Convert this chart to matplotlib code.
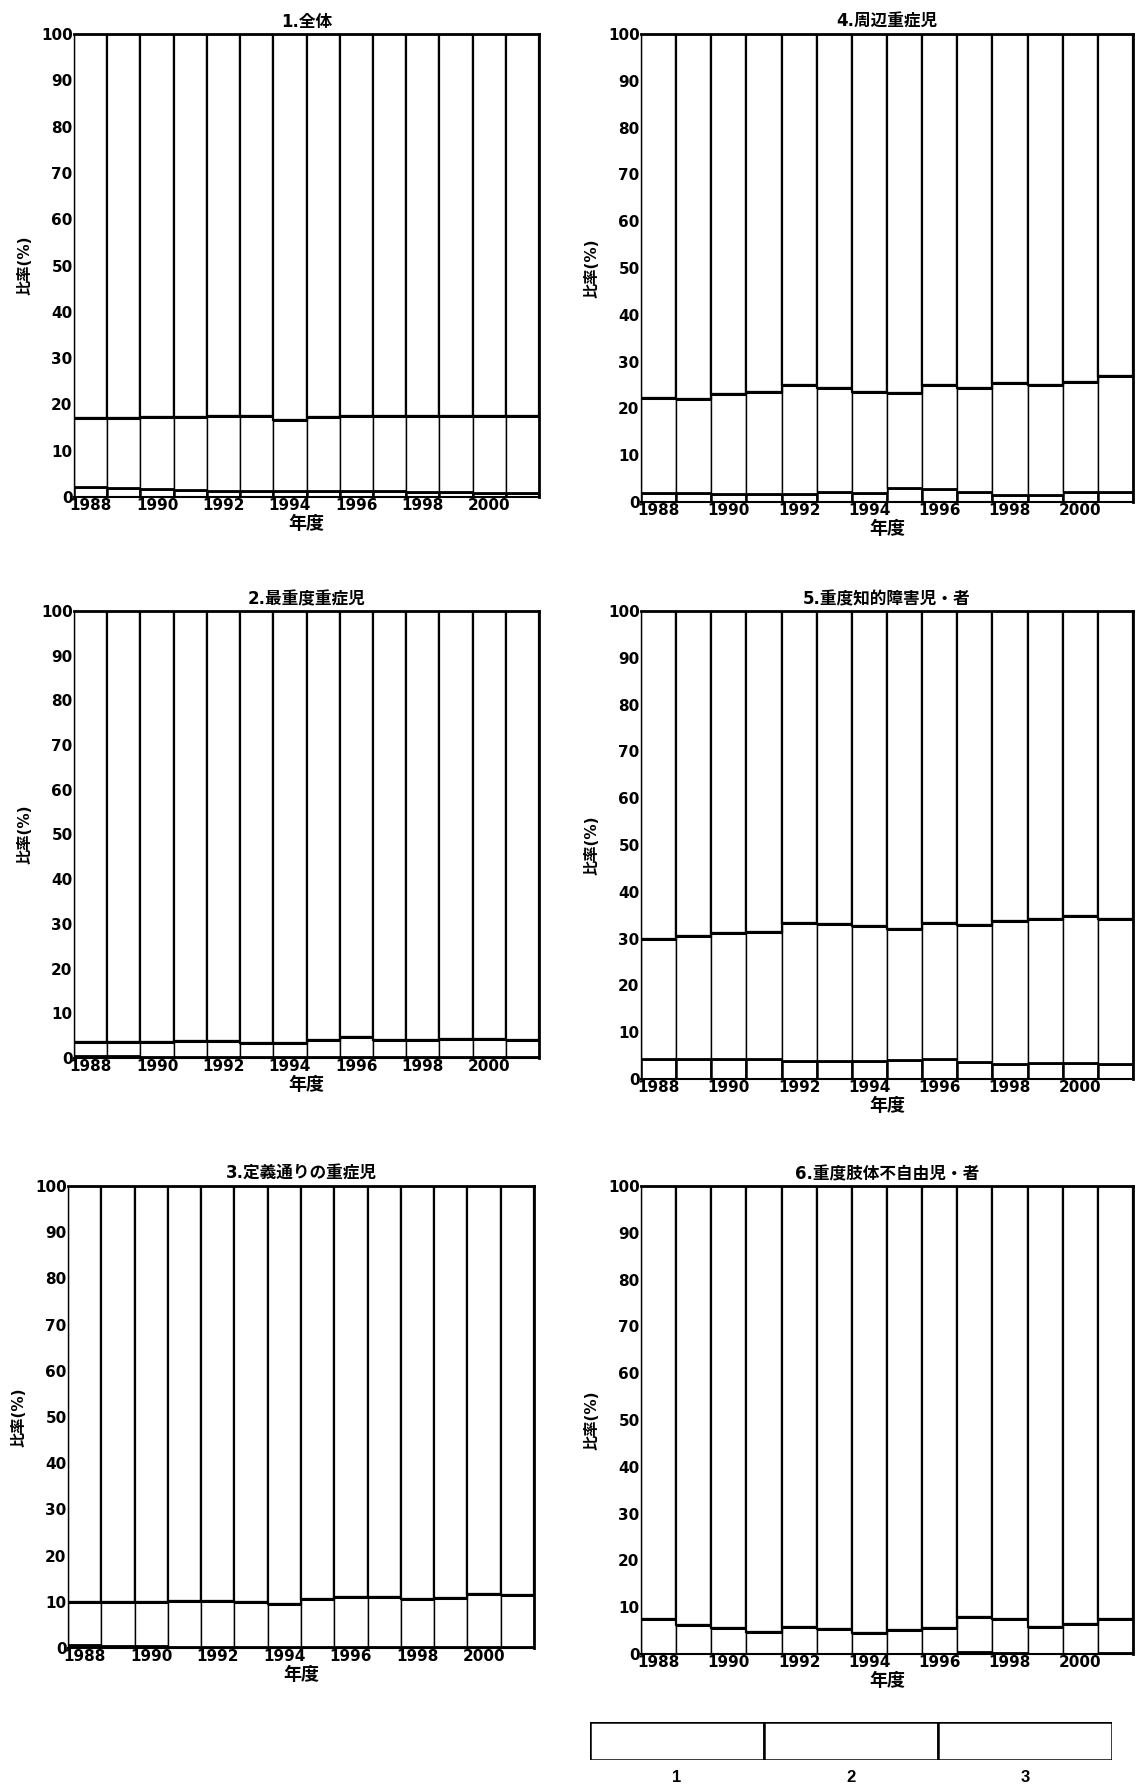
import matplotlib
matplotlib.use("Agg")
import matplotlib.pyplot as plt
import numpy as np

# DejaVu for the wide bold digits, Noto CJK for the Japanese glyphs
plt.rcParams["font.family"] = ["DejaVu Sans", "Noto Sans CJK JP"]
plt.rcParams["font.weight"] = "bold"

years = list(range(1988, 2002))
tick_years = [1988, 1990, 1992, 1994, 1996, 1998, 2000]

titles = ["1.全体", "2.最重度重症児", "3.定義通りの重症児",
          "4.周辺重症児", "5.重度知的障害児・者", "6.重度肢体不自由児・者"]

# share of type 1 (bottom) and type 2 (middle); type 3 = rest up to 100
type1 = [
    [2.1, 1.9, 1.7, 1.5, 1.35, 1.2, 1.3, 1.2, 1.4, 1.2, 1.06, 1.0, 0.95, 0.85],
    [0.4, 0.4, 0.3, 0.3, 0.3, 0.3, 0.3, 0.3, 0.3, 0.3, 0.3, 0.3, 0.3, 0.3],
    [0.7, 0.5, 0.35, 0.2, 0.2, 0.2, 0.15, 0.15, 0.2, 0.2, 0.15, 0.15, 0.15, 0.15],
    [2.0, 2.0, 1.8, 1.8, 1.8, 2.1, 2.0, 2.9, 2.7, 2.1, 1.4, 1.4, 2.1, 2.1],
    [4.2, 4.2, 4.2, 4.2, 3.9, 3.9, 3.8, 4.1, 4.2, 3.6, 3.3, 3.5, 3.5, 3.2],
    [0.1, 0.1, 0.1, 0.1, 0.1, 0.1, 0.1, 0.1, 0.1, 0.4, 0.2, 0.1, 0.1, 0.3],
]
# cumulative top of type 2 (boundary between type 2 and type 3)
type12 = [
    [17.0, 17.0, 17.2, 17.2, 17.5, 17.5, 16.7, 17.2, 17.5, 17.5, 17.4, 17.5, 17.6, 17.5],
    [3.6, 3.6, 3.6, 3.8, 3.8, 3.3, 3.3, 4.1, 4.6, 4.1, 4.0, 4.3, 4.3, 4.1],
    [10.0, 10.0, 10.0, 10.2, 10.2, 10.0, 9.6, 10.7, 11.1, 11.1, 10.7, 10.9, 11.6, 11.4],
    [22.3, 22.0, 23.0, 23.4, 24.9, 24.4, 23.5, 23.2, 25.1, 24.3, 25.4, 24.9, 25.7, 27.0],
    [30.0, 30.5, 31.2, 31.4, 33.3, 33.1, 32.6, 32.1, 33.3, 32.8, 33.8, 34.2, 34.8, 34.2],
    [7.4, 6.2, 5.5, 4.7, 5.8, 5.3, 4.4, 5.1, 5.6, 7.8, 7.5, 5.8, 6.5, 7.4],
]
legend_labels = ["1", "2", "3"]

W, H = 1137, 1788
# axes boxes in pixels: left, top, right, bottom
boxes = [
    (74, 34, 539, 497),
    (74, 611, 539, 1058),
    (68, 1186, 534, 1648),
    (641, 34, 1133, 502),
    (641, 611, 1133, 1079),
    (641, 1186, 1133, 1654),
]

fig = plt.figure(figsize=(W / 100, H / 100), dpi=100)

for i in range(6):
    l, t, r, b = boxes[i]
    ax = fig.add_axes([l / W, 1 - b / H, (r - l) / W, (b - t) / H])
    s1 = np.array(type1[i])
    s12 = np.array(type12[i])
    s2 = s12 - s1
    s3 = 100 - s12
    x = np.array(years)
    ax.bar(x, s1, width=1.0, color="white", edgecolor="black", linewidth=1.8)
    ax.bar(x, s2, bottom=s1, width=1.0, color="white", edgecolor="black", linewidth=1.0)
    ax.bar(x, s3, bottom=s12, width=1.0, color="white", edgecolor="black", linewidth=1.6)
    # thicker boundary lines between segments
    ax.hlines(s12, x - 0.5, x + 0.5, color="black", linewidth=2.2)
    ax.hlines(s1, x - 0.5, x + 0.5, color="black", linewidth=2.0)
    ax.set_xlim(1987.5, 2001.5)
    ax.set_ylim(0, 100)
    ax.set_yticks(range(0, 101, 10))
    ax.set_xticks(tick_years)
    ax.tick_params(axis="both", length=0, labelsize=11, pad=1)
    ax.set_title(titles[i], fontsize=12, fontweight="bold", pad=5)
    ax.set_xlabel("年度", fontsize=13, fontweight="bold", labelpad=1)
    ax.set_ylabel("比率(%)", fontsize=11, fontweight="bold", labelpad=6)
    for side in ["top", "right"]:
        ax.spines[side].set_linewidth(2.0)
    ax.spines["left"].set_linewidth(1.0)
    ax.spines["bottom"].set_linewidth(1.5)

# legend strip
lx0, ly0, lx1, ly1 = 590, 1722, 1112, 1760
lax = fig.add_axes([lx0 / W, 1 - ly1 / H, (lx1 - lx0) / W, (ly1 - ly0) / H])
for k, lab in enumerate(legend_labels):
    lax.barh(0, 1, left=k, height=1, color="white", edgecolor="black", linewidth=1.8)
    lax.text(k + 0.5, -0.95, lab, ha="center", va="center", fontsize=12,
             fontweight="bold", family=["Liberation Sans", "DejaVu Sans"])
lax.set_xlim(0, 3)
lax.set_ylim(-0.5, 0.5)
lax.axis("off")

fig.savefig("out.png", dpi=100)
